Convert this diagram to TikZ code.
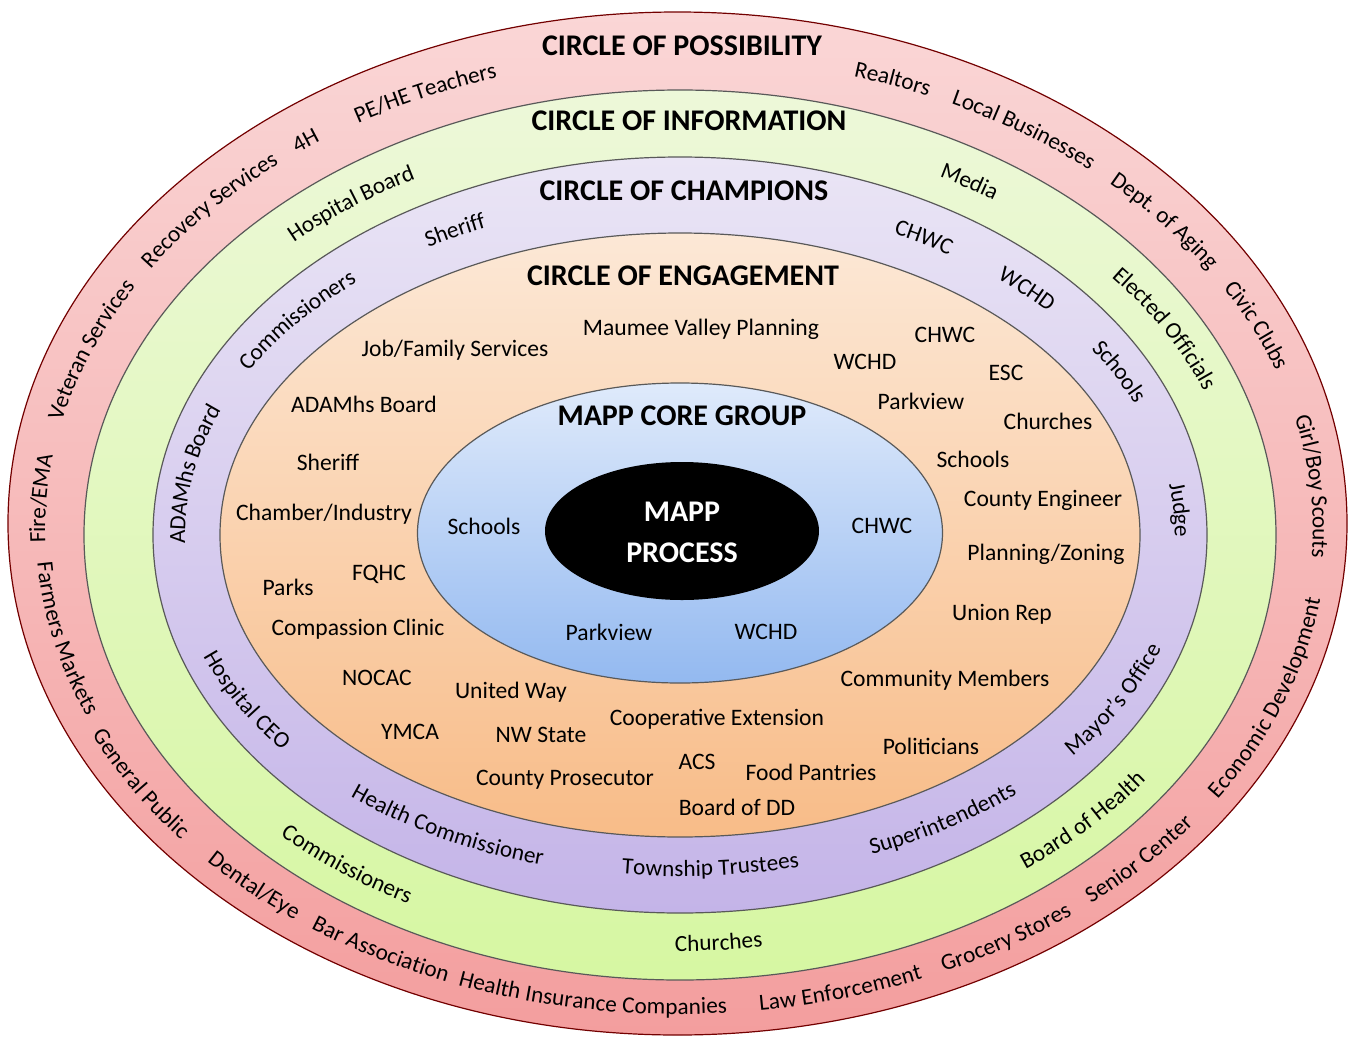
\documentclass[tikz,border=0pt]{standalone}
\usepackage{fontspec}
\setmainfont{Carlito}
\usetikzlibrary{decorations.text}

\definecolor{possTop}{HTML}{FAD6D6}
\definecolor{possBot}{HTML}{F39E9E}
\definecolor{infoTop}{HTML}{EDF8D9}
\definecolor{infoBot}{HTML}{D6F7A2}
\definecolor{champTop}{HTML}{EAE5F5}
\definecolor{champBot}{HTML}{C4B4E8}
\definecolor{engTop}{HTML}{FCE8D6}
\definecolor{engBot}{HTML}{F8BC88}
\definecolor{coreTop}{HTML}{DFEAFB}
\definecolor{coreBot}{HTML}{93B9F0}

\newcommand\labfont{\fontsize{11.8}{14}\selectfont}
\newcommand\arcfont{\fontsize{11.6}{14}\selectfont}
\newcommand\headfont{\fontsize{15}{18}\selectfont\bfseries}

% text set along an elliptic arc: centre, x radius, y radius, start, end, text
\newcommand\ringlabel[6]{%
  \path[ringtext, decoration={text={|\arcfont|#6}}]
    (#1) ++(#4:#2 and #3) arc[start angle=#4, end angle=#5, x radius=#2, y radius=#3];}

\tikzset{
  ring/.style={draw=black!65, line width=0.6pt},
  ringtext/.style={decorate, decoration={text along path, text align=center, raise=-3.6pt}},
  lab/.style={font=\labfont, inner sep=0pt},
  head/.style={font=\headfont, inner sep=0pt}
}

\begin{document}
\begin{tikzpicture}[x=0.5pt,y=0.5pt]

\useasboundingbox (-680,-505) rectangle (668,535);

% rings
\draw[ring, draw=red!45!black, top color=possTop, bottom color=possBot] (-2.5,11.5) ellipse [x radius=669.5, y radius=511.5];
\draw[ring, top color=infoTop, bottom color=infoBot] (0,0) ellipse [x radius=596, y radius=445];
\draw[ring, top color=champTop, bottom color=champBot] (0,0) ellipse [x radius=527, y radius=378];
\draw[ring, top color=engTop, bottom color=engBot] (0,0) ellipse [x radius=460, y radius=302];
\draw[ring, top color=coreTop, bottom color=coreBot] (0,2) ellipse [x radius=262.5, y radius=150];
\fill[black] (2,4) ellipse [x radius=137, y radius=69];

\coordinate (possC) at (-1,6);
\coordinate (mid) at (0,0);

% headings
\node[head] at (2,489) (possHead) {CIRCLE OF POSSIBILITY};
\node[head] at (9,414) (infoHead) {CIRCLE OF INFORMATION};
\node[head] at (4,344) (champHead) {CIRCLE OF CHAMPIONS};
\node[head] at (3,259) (engHead) {CIRCLE OF ENGAGEMENT};
\node[head] at (2,119) (coreHead) {MAPP CORE GROUP};
\node[head, text=white] at (2,23) (procA) {MAPP};
\node[head, text=white] at (2,-18) (procB) {PROCESS};

% circle of possibility
\ringlabel{possC}{641}{478}{134}{94}{PE/HE Teachers}
\ringlabel{possC}{641}{478}{146.5}{106.5}{4H}
\ringlabel{possC}{641}{478}{158.5}{118.5}{Recovery Services}
\ringlabel{possC}{641}{478}{178.5}{138.5}{Veteran Services}
\ringlabel{possC}{641}{478}{196.5}{156.5}{Fire/EMA}
\ringlabel{possC}{636}{474}{173}{213}{Farmers Markets}
\ringlabel{possC}{641}{478}{191.5}{231.5}{General Public}
\ringlabel{possC}{641}{478}{207.5}{247.5}{Dental/Eye}
\ringlabel{possC}{641}{478}{221.5}{261.5}{Bar Association}
\ringlabel{possC}{641}{478}{242}{282}{Health Insurance Companies}
\ringlabel{possC}{641}{478}{265}{305}{Law Enforcement}
\ringlabel{possC}{641}{478}{281.5}{321.5}{Grocery Stores}
\ringlabel{possC}{641}{478}{297}{337}{Senior Center}
\ringlabel{possC}{641}{478}{319.5}{359.5}{Economic Development}
\ringlabel{possC}{641}{478}{25}{-15}{Girl/Boy Scouts}
\ringlabel{possC}{641}{478}{44.5}{4.5}{Civic Clubs}
\ringlabel{possC}{641}{478}{59.5}{19.5}{Dept. of Aging}
\ringlabel{possC}{641}{478}{76.5}{36.5}{Local Businesses}
\ringlabel{possC}{641}{478}{90}{50}{Realtors}

% circle of information
\ringlabel{mid}{568}{411}{146.5}{106.5}{Hospital Board}
\ringlabel{mid}{568}{411}{78.5}{38.5}{Media}
\ringlabel{mid}{568}{411}{49.6}{9.6}{Elected Officials}
\ringlabel{mid}{568}{411}{296.5}{336.5}{Board of Health}
\ringlabel{mid}{568}{409}{254}{294}{Churches}
\ringlabel{mid}{568}{411}{213}{253}{Commissioners}

% circle of champions
\ringlabel{mid}{502}{341}{161.5}{121.5}{Commissioners}
\ringlabel{mid}{502}{341}{137.5}{97.5}{Sheriff}
\ringlabel{mid}{502}{341}{80}{40}{CHWC}
\ringlabel{mid}{502}{341}{65}{25}{WCHD}
\ringlabel{mid}{502}{341}{47.5}{7.5}{Schools}
\ringlabel{mid}{502}{341}{24}{-16}{Judge}
\ringlabel{mid}{502}{341}{190}{150}{ADAMhs Board}
\ringlabel{mid}{502}{338}{188.4}{228.4}{Hospital CEO}
\ringlabel{mid}{502}{336}{221.3}{261.3}{Health Commissioner}
\ringlabel{mid}{502}{334}{253.6}{293.6}{Township Trustees}
\ringlabel{mid}{502}{338}{282.7}{322.7}{Superintendents}
\ringlabel{mid}{502}{340}{311.8}{351.8}{Mayor's Office}

% circle of engagement
\node[lab] at (21,206) (engMaumee) {Maumee Valley Planning};
\node[lab] at (-225,185) (engJob) {Job/Family Services};
\node[lab] at (265,200) (engChwc) {CHWC};
\node[lab] at (185,173) (engWchd) {WCHD};
\node[lab] at (326,162) (engEsc) {ESC};
\node[lab] at (241,134) (engParkview) {Parkview};
\node[lab] at (-316,131) (engAdamhs) {ADAMhs Board};
\node[lab] at (368,114) (engChurches) {Churches};
\node[lab] at (-352,73) (engSheriff) {Sheriff};
\node[lab] at (293,76) (engSchools) {Schools};
\node[lab] at (363,35) (engEngineer) {County Engineer};
\node[lab] at (-356,21) (engChamber) {Chamber/Industry};
\node[lab] at (366,-19) (engZoning) {Planning/Zoning};
\node[lab] at (-392,-52) (engParks) {Parks};
\node[lab] at (-301,-39) (engFqhc) {FQHC};
\node[lab] at (322,-79) (engUnion) {Union Rep};
\node[lab] at (-322,-94) (engClinic) {Compassion Clinic};
\node[lab] at (-303,-143) (engNocac) {NOCAC};
\node[lab] at (-169,-157) (engUnited) {United Way};
\node[lab] at (265,-145) (engMembers) {Community Members};
\node[lab] at (37,-184) (engCoop) {Cooperative Extension};
\node[lab] at (-270,-197) (engYmca) {YMCA};
\node[lab] at (-139,-200) (engNw) {NW State};
\node[lab] at (17,-227) (engAcs) {ACS};
\node[lab] at (251,-211) (engPoliticians) {Politicians};
\node[lab] at (131,-237) (engFood) {Food Pantries};
\node[lab] at (-115,-245) (engProsecutor) {County Prosecutor};
\node[lab] at (57,-272) (engBoardDD) {Board of DD};

% core group
\node[lab] at (-196,9) (coreSchools) {Schools};
\node[lab] at (202,9) (coreChwc) {CHWC};
\node[lab] at (-71,-97) (coreParkview) {Parkview};
\node[lab] at (86,-97) (coreWchd) {WCHD};

\end{tikzpicture}
\end{document}
